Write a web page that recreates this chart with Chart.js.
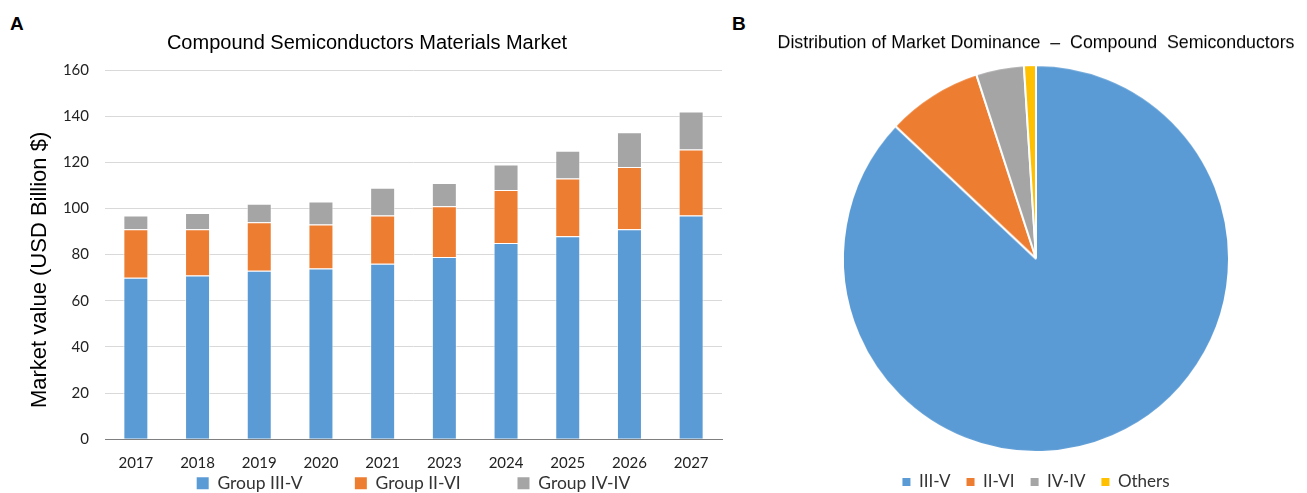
<!DOCTYPE html>
<html>
<head>
<meta charset="utf-8">
<script src="https://cdn.jsdelivr.net/npm/chart.js@4.4.1/dist/chart.umd.min.js"></script>
<style>
  html, body { margin: 0; padding: 0; background: #fff; width: 1307px; height: 493px; overflow: hidden; }
  #wrap { position: relative; width: 1307px; height: 493px; overflow: hidden; }
  .panel-label { position: absolute; font-family: "Liberation Sans", Arial, sans-serif; font-weight: bold; font-size: 19px; line-height: 19px; color: #000; }
  #barBox { position: absolute; left: 0; top: 0; width: 735px; height: 502px; }
  #pieBox { position: absolute; left: 765px; top: 0; width: 542px; height: 499.5px; }
</style>
</head>
<body>
<div id="wrap">
  <div class="panel-label" style="left:10px; top:14px;">A</div>
  <div class="panel-label" style="left:732px; top:14px;">B</div>
  <div id="barBox"><canvas id="bar"></canvas></div>
  <div id="pieBox"><canvas id="pie"></canvas></div>
</div>
<script>
// ---- Data ----
const years = ['2017', '2018', '2019', '2020', '2021', '2023', '2024', '2025', '2026', '2027'];
const groupIIIV = [70, 71, 73, 74, 76, 79, 85, 88, 91, 97];
const groupIIVI = [21, 20, 21, 19, 21, 22, 23, 25, 27, 28.5];
const groupIVIV = [6, 7, 8, 10, 12, 10, 11, 12, 15, 16.5];
const barSeriesNames = ['Group III-V', 'Group II-VI', 'Group IV-IV'];
const yTicks = [0, 20, 40, 60, 80, 100, 120, 140, 160];

const pieLabels = ['III-V', 'II-VI', 'IV-IV', 'Others'];
const pieValues = [87, 8, 4, 1];

const barTitle = 'Compound Semiconductors Materials Market';
const yAxisTitle = 'Market value (USD Billion $)';
const pieTitle = 'Distribution of Market Dominance  \u2013  Compound  Semiconductors';

const BLUE = '#5B9BD5', ORANGE = '#ED7D31', GRAY = '#A5A5A5', YELLOW = '#FFC000';

Chart.defaults.animation = false;
Chart.defaults.responsive = true;
Chart.defaults.maintainAspectRatio = false;

// trailing spaces used only to space legend entries like the original
const legendGaps = [11, 12, 0];

// ---- Bar chart ----
new Chart(document.getElementById('bar'), {
  type: 'bar',
  data: {
    labels: years,
    datasets: [
      { label: barSeriesNames[0], data: groupIIIV, backgroundColor: BLUE },
      { label: barSeriesNames[1], data: groupIIVI, backgroundColor: ORANGE },
      { label: barSeriesNames[2], data: groupIVIV, backgroundColor: GRAY }
    ].map(d => Object.assign(d, {
      borderColor: 'rgba(255,255,255,0.55)', borderWidth: 1,
      barPercentage: 0.405, categoryPercentage: 1
    }))
  },
  options: {
    layout: { padding: { left: 12, right: 13, top: 0, bottom: 0 } },
    plugins: {
      title: {
        display: true, text: barTitle, color: '#000',
        font: { family: '"Liberation Sans", Arial', size: 20, weight: 'normal' },
        padding: { top: 31, bottom: 15 }
      },
      legend: {
        position: 'bottom', fullSize: false,
        labels: {
          boxWidth: 12, boxHeight: 12, padding: 3, color: '#333',
          font: { family: 'Lato', size: 17.5 },
          generateLabels: (chart) => {
            const items = Chart.defaults.plugins.legend.labels.generateLabels(chart);
            items.forEach((it, i) => {
              it.lineWidth = 0;
              it.text = it.text + ' '.repeat(legendGaps[i] || 0);
            });
            return items;
          }
        }
      },
      tooltip: { enabled: false }
    },
    scales: {
      x: {
        stacked: true,
        afterFit: (scale) => { scale.height = 32.25; },
        grid: { display: false, drawTicks: false },
        border: { display: true, color: '#7f7f7f', width: 1 },
        ticks: { color: '#222', font: { family: 'Lato', size: 15 }, padding: 15 }
      },
      y: {
        stacked: true, min: 0, max: 160,
        afterBuildTicks: (scale) => { scale.ticks = yTicks.map(v => ({ value: v })); },
        afterFit: (scale) => { scale.width = 93; },
        grid: { color: '#d9d9d9', lineWidth: 1, drawTicks: false },
        border: { display: false },
        ticks: { color: '#222', font: { family: 'Lato', size: 15 }, padding: 16 },
        title: {
          display: true, text: yAxisTitle + '     ', color: '#000',
          font: { family: '"Liberation Sans", Arial', size: 22 },
          padding: { top: 14.8, bottom: 0 }
        }
      }
    }
  }
});

// ---- Pie chart ----
new Chart(document.getElementById('pie'), {
  type: 'pie',
  data: {
    labels: pieLabels,
    datasets: [{
      data: pieValues,
      backgroundColor: [BLUE, ORANGE, GRAY, YELLOW],
      borderColor: '#fff', borderWidth: 2
    }]
  },
  options: {
    layout: { padding: 0 },
    plugins: {
      title: {
        display: true, text: pieTitle, color: '#000',
        font: { family: '"Liberation Sans", Arial', size: 17.8, weight: 'normal' },
        padding: { top: 32.3, bottom: 10.3 }
      },
      legend: {
        position: 'bottom',
        title: { display: true, text: ' ', font: { size: 1 }, padding: { top: 3.3, bottom: 0 } },
        labels: {
          boxWidth: 8, boxHeight: 8, padding: 16, color: '#333',
          font: { family: 'Lato', size: 17 },
          generateLabels: (chart) => {
            const items = Chart.overrides.pie.plugins.legend.labels.generateLabels(chart);
            items.forEach(it => { it.lineWidth = 0; });
            return items;
          }
        }
      },
      tooltip: { enabled: false }
    }
  }
});
</script>
</body>
</html>
